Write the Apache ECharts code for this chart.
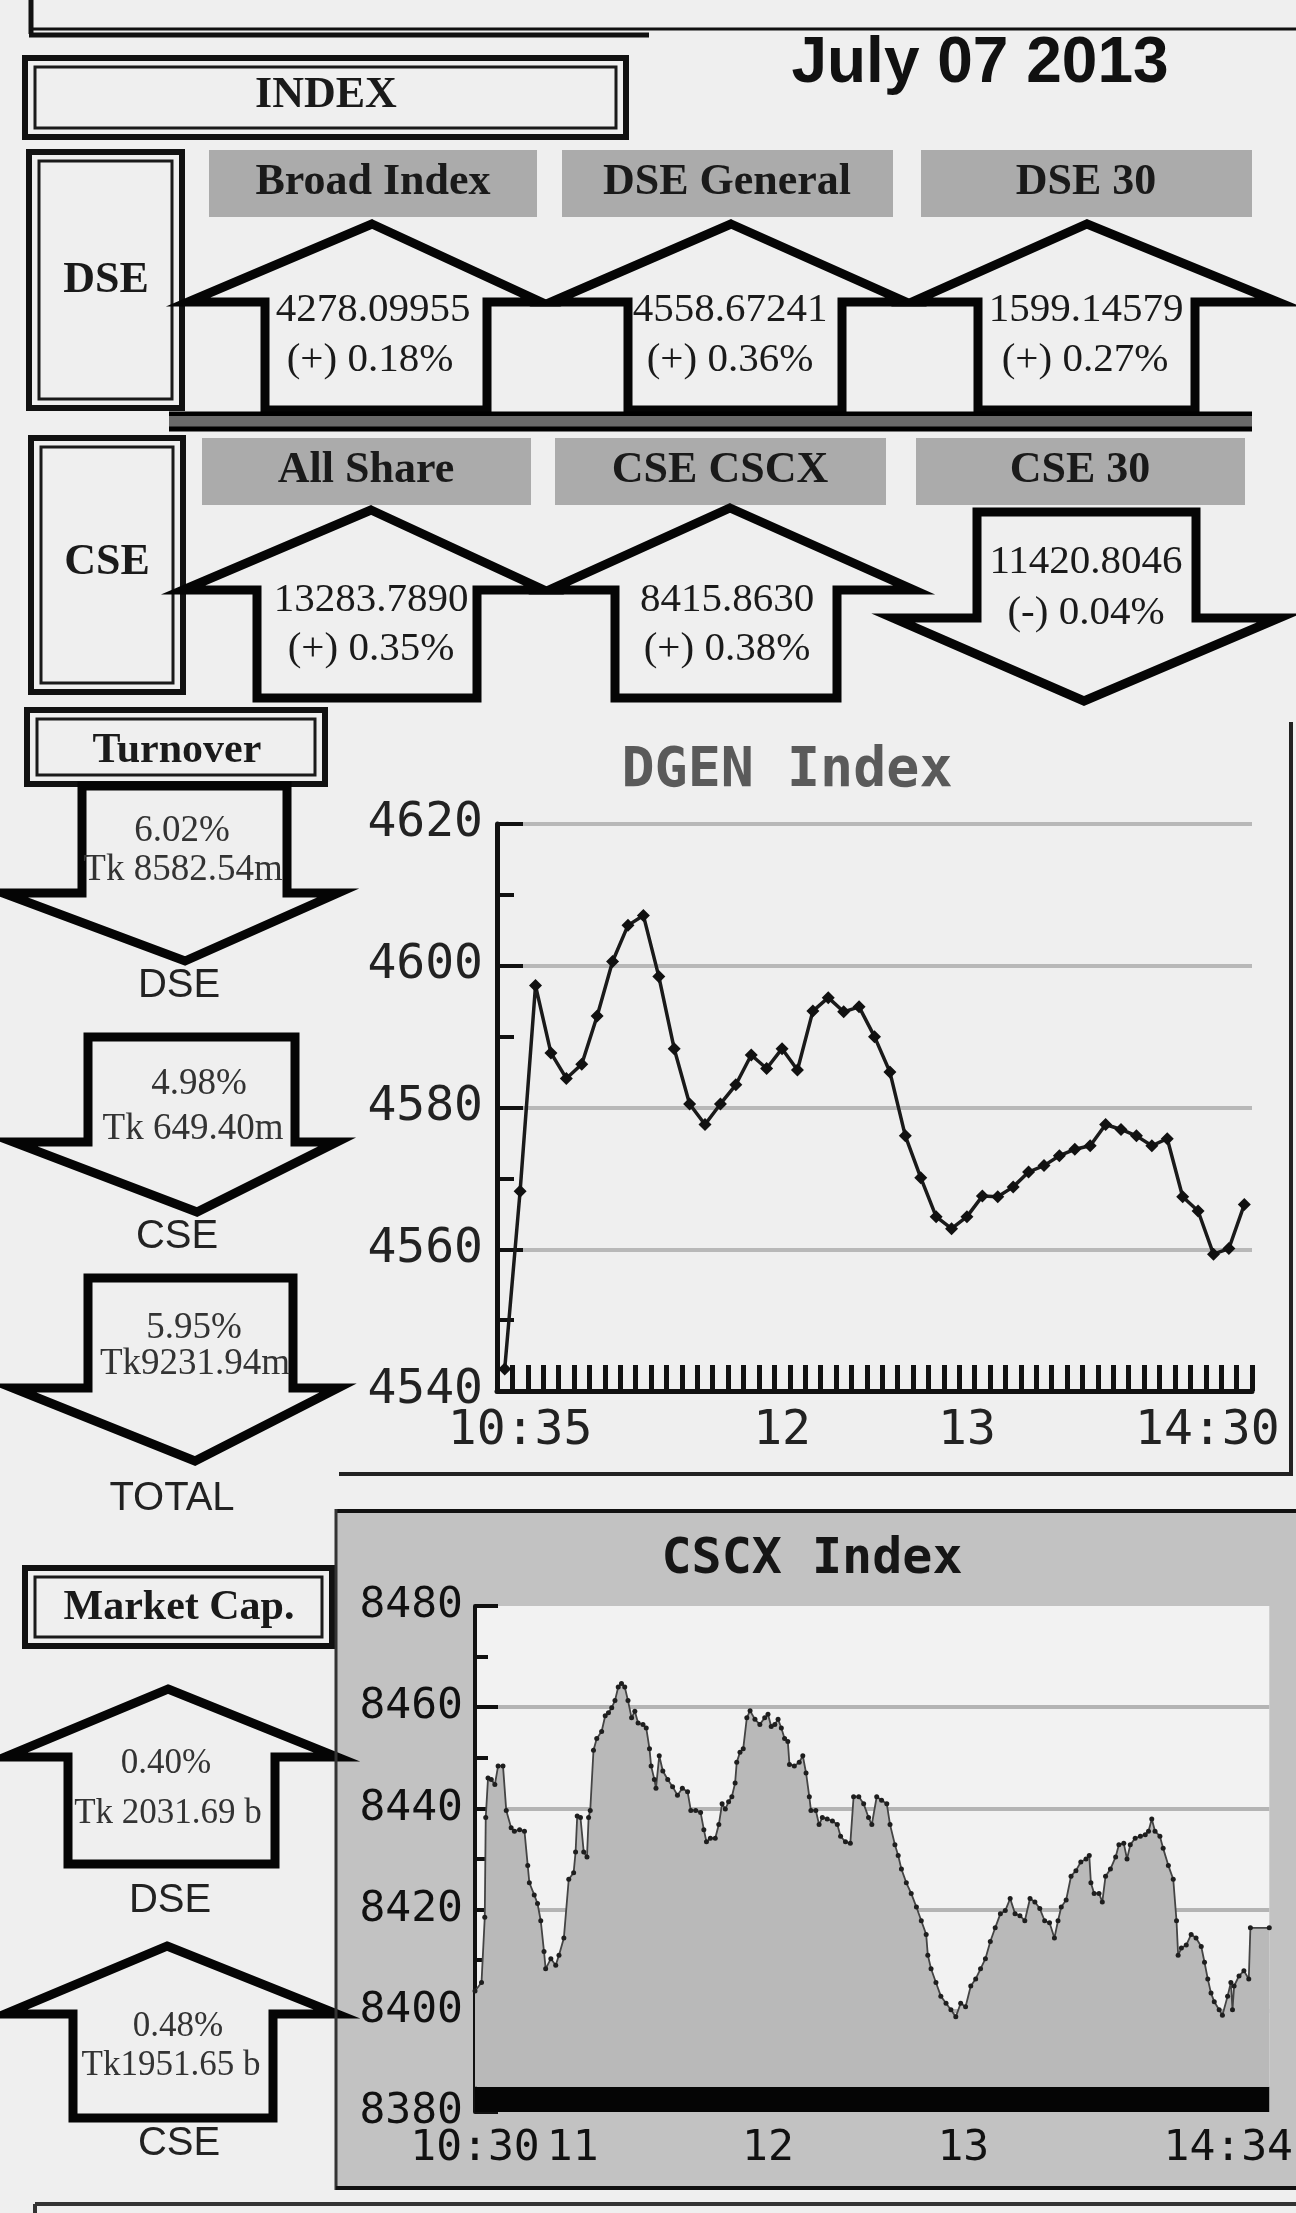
<!DOCTYPE html>
<html>
<head>
<meta charset="utf-8">
<script src="https://cdn.jsdelivr.net/npm/echarts@6/dist/echarts.min.js"></script>
<style>
  html, body { margin: 0; padding: 0; background: #efefef; }
  #chart { width: 1296px; height: 2213px; }
</style>
</head>
<body>
<div id="chart"></div>
<script>
// DGEN index, one point every 5 minutes
const dgenTimes = ['10:30','10:35','10:40','10:45','10:50','10:55',
  '11:00','11:05','11:10','11:15','11:20','11:25','11:30','11:35','11:40','11:45','11:50','11:55',
  '12:00','12:05','12:10','12:15','12:20','12:25','12:30','12:35','12:40','12:45','12:50','12:55',
  '13:00','13:05','13:10','13:15','13:20','13:25','13:30','13:35','13:40','13:45','13:50','13:55',
  '14:00','14:05','14:10','14:15','14:20','14:25','14:30'];
const dgenValues = [4543.1, 4568.2, 4597.2, 4587.7, 4584.1, 4586.1, 4592.9, 4600.6, 4605.7, 4607.1,
  4598.5, 4588.3, 4580.5, 4577.6, 4580.5, 4583.2, 4587.4, 4585.5, 4588.3, 4585.3,
  4593.6, 4595.5, 4593.5, 4594.2, 4590.0, 4585.0, 4576.0, 4570.1, 4564.6, 4562.9,
  4564.6, 4567.5, 4567.4, 4568.8, 4570.9, 4571.8, 4573.2, 4574.1, 4574.6, 4577.6,
  4576.9, 4576.0, 4574.6, 4575.6, 4567.4, 4565.4, 4559.3, 4560.1, 4566.3];
const dgenLabelIndex = [1, 18, 30, 48];
const dgenLabelText = ['10:35', '12', '13', '14:30'];

// CSCX index, minutes after 10:30
const cscxMinutes = [0, 2.0, 3.0, 3.3, 4.0, 5.0, 6.1, 7.1, 8.6, 9.6, 11.1, 12.1, 13.7, 15.2, 16.2, 16.7,
  18.2, 19.2, 20.2, 21.2, 21.7, 23.3, 24.8, 25.8, 27.3, 28.8, 30.3, 30.9, 31.4, 32.4, 33.4, 34.4,
  34.9, 35.4, 36.4, 37.4, 38.9, 40.0, 41.0, 42.0, 43.0, 44.0, 45.0, 46.0, 47.0, 48.1, 49.1, 50.1,
  51.6, 52.6, 53.6, 54.1, 55.1, 55.6, 56.6, 57.7, 59.2, 60.7, 62.2, 63.7, 65.3, 66.3, 67.8, 69.3,
  70.3, 71.1, 72.3, 73.8, 74.9, 75.9, 76.9, 77.9, 78.9, 79.9, 80.4, 81.4, 82.4, 83.5, 84.5, 86.0,
  87.5, 89.0, 90.0, 91.0, 92.1, 93.1, 94.1, 95.1, 96.1, 96.6, 98.1, 99.6, 100.7, 101.7, 102.7, 103.2,
  104.7, 105.7, 106.7, 108.2, 109.8, 111.3, 112.3, 113.8, 115.3, 116.3, 117.9, 119.4, 120.9, 121.9,
  123.4, 124.9, 126.5, 127.5, 129.0, 130.0, 131.0, 132.5, 134.0, 135.6, 137.1, 138.6, 139.1, 140.1,
  141.6, 143.1, 144.7, 146.2, 147.7, 149.2, 150.7, 152.3, 153.8, 155.3, 156.8, 158.3, 159.8, 161.4,
  162.9, 164.4, 165.9, 167.4, 168.9, 170.5, 172.0, 173.5, 175.0, 176.5, 178.0, 179.1, 180.1, 181.6,
  183.1, 184.6, 186.1, 187.7, 188.7, 189.2, 190.2, 191.7, 192.7, 193.7, 195.2, 196.8, 197.8, 199.3,
  200.3, 201.3, 202.8, 204.4, 205.9, 206.9, 207.9, 208.9, 210.4, 211.4, 213.0, 214.5, 215.5, 216.0,
  217.0, 218.5, 220.0, 221.5, 223.1, 224.1, 225.1, 226.1, 227.1, 228.6, 229.6, 231.2, 232.2, 232.7,
  233.2, 234.7, 236.2, 237.7, 238.2, 244];
const cscxValues = [8403.9, 8405.6, 8418.5, 8438.2, 8446.0, 8445.7, 8444.7, 8448.4, 8448.4, 8439.6, 8436.2, 8435.5, 8435.8, 8435.5, 8428.7, 8425.3,
  8422.9, 8421.2, 8417.8, 8411.7, 8408.3, 8410.3, 8409.0, 8411.0, 8414.4, 8426.0, 8427.3, 8431.4, 8438.5, 8438.2, 8431.4, 8430.4,
  8438.2, 8439.6, 8451.5, 8453.8, 8455.2, 8458.3, 8458.9, 8459.9, 8461.3, 8464.0, 8464.7, 8464.0, 8461.3, 8457.9, 8459.2, 8456.9,
  8456.6, 8455.9, 8451.8, 8448.4, 8445.7, 8444.0, 8450.4, 8447.4, 8445.7, 8444.3, 8442.6, 8444.0, 8443.3, 8439.6, 8439.6, 8439.2,
  8435.8, 8433.4, 8434.1, 8434.1, 8436.8, 8440.9, 8439.9, 8441.3, 8442.3, 8445.0, 8449.1, 8451.1, 8451.8, 8457.9, 8459.3, 8457.6,
  8456.6, 8457.9, 8458.6, 8456.2, 8456.6, 8457.6, 8455.9, 8453.8, 8453.2, 8448.7, 8448.4, 8449.1, 8450.4, 8447.0, 8442.3, 8439.6,
  8439.6, 8436.8, 8438.2, 8437.9, 8437.5, 8436.8, 8434.5, 8433.4, 8433.1, 8442.3, 8442.3, 8440.9, 8438.2, 8436.8,
  8442.3, 8441.6, 8440.9, 8436.8, 8432.8, 8430.7, 8428.0, 8425.3, 8423.2, 8420.5, 8417.8, 8415.1, 8411.0, 8408.3,
  8405.6, 8402.9, 8401.5, 8400.2, 8398.8, 8401.5, 8400.8, 8404.9, 8406.3, 8408.3, 8410.3, 8413.7, 8416.4, 8419.2,
  8419.8, 8422.2, 8419.2, 8418.8, 8417.8, 8422.2, 8421.5, 8420.2, 8417.8, 8417.4, 8414.4, 8417.8, 8420.5, 8421.9,
  8426.6, 8427.7, 8429.4, 8430.0, 8430.7, 8425.3, 8423.2, 8423.2, 8421.5, 8426.6, 8428.0, 8430.4, 8432.8, 8433.1,
  8430.0, 8432.8, 8434.1, 8434.5, 8434.8, 8435.5, 8437.9, 8435.5, 8434.5, 8432.1, 8428.7, 8426.0, 8417.8, 8411.0,
  8412.4, 8413.0, 8415.1, 8414.4, 8412.7, 8409.6, 8406.3, 8403.5, 8401.8, 8400.2, 8399.1, 8402.9, 8405.6, 8400.2,
  8404.9, 8406.9, 8407.9, 8406.3, 8416.4, 8416.4];
const cscxLabelMinutes = [0, 30, 90, 150, 244];
const cscxLabelText = ['10:30', '11', '12', '13', '14:34'];

const SERIF = '"Liberation Serif", "Times New Roman", serif';
const SANS = '"Liberation Sans", Arial, sans-serif';
const MONO = '"DejaVu Sans Mono", monospace';
const BG = '#efefef';

function txt(s, x, y, font, fill) {
  return {
    type: 'text',
    style: {
      text: s, x: x, y: y, font: font, fill: fill || '#1a1a1a',
      textAlign: 'center', textVerticalAlign: 'middle', align: 'center', verticalAlign: 'middle'
    }
  };
}
function line(x1, y1, x2, y2, w, c) {
  return { type: 'line', shape: { x1: x1, y1: y1, x2: x2, y2: y2 }, style: { stroke: c || '#111', lineWidth: w } };
}
function rect(x1, y1, x2, y2, fill, stroke, w) {
  return { type: 'rect', shape: { x: x1, y: y1, width: x2 - x1, height: y2 - y1 },
    style: { fill: fill, stroke: stroke || null, lineWidth: w || 0 } };
}
// double framed label box
function box(x1, y1, x2, y2) {
  return [
    rect(x1, y1, x2, y2, BG, '#111', 6),
    rect(x1 + 10, y1 + 9, x2 - 10, y2 - 9, 'none', '#1a1a1a', 3)
  ];
}
function poly(pts) {
  return { type: 'polygon', shape: { points: pts },
    style: { fill: BG, stroke: '#050505', lineWidth: 9, lineJoin: 'miter' } };
}
function upArrow(tipX, tipY, left, right, headY, sl, sr, bottom) {
  return poly([[tipX, tipY], [right, headY], [sr, headY], [sr, bottom], [sl, bottom], [sl, headY], [left, headY]]);
}
function downArrow(top, sl, sr, headY, left, right, tipX, tipY) {
  return poly([[sl, top], [sr, top], [sr, headY], [right, headY], [tipX, tipY], [left, headY], [sl, headY]]);
}

const numFont = '41px ' + SERIF;
const headFont = 'bold 44px ' + SERIF;
const smallFont = '37px ' + SERIF;
const capFont = '35px ' + SERIF;
const labFont = '40px ' + SANS;

const graphics = [].concat(
  // CSCX panel background
  [Object.assign(rect(336, 1511, 1296, 2188, '#c2c2c2'), { z: -10 })],
  // top frame
  [line(31, 0, 31, 34, 5), line(29, 29, 1296, 29, 3), line(29, 35, 649, 35, 5)],
  [txt('July 07 2013', 980, 64, 'bold 64px ' + SANS, '#111')],
  box(25, 58, 626, 137), [txt('INDEX', 326, 96, headFont)],
  box(29, 152, 182, 408), [txt('DSE', 106, 281, headFont)],
  box(31, 438, 183, 692), [txt('CSE', 107, 563, headFont)],
  // grey headers
  [rect(209, 150, 537, 217, '#ababab'), rect(562, 150, 893, 217, '#ababab'), rect(921, 150, 1252, 217, '#ababab'),
   rect(202, 438, 531, 505, '#ababab'), rect(555, 438, 886, 505, '#ababab'), rect(916, 438, 1245, 505, '#ababab')],
  [txt('Broad Index', 373, 183, headFont), txt('DSE General', 727, 183, headFont), txt('DSE 30', 1086, 183, headFont),
   txt('All Share', 366, 471, headFont), txt('CSE CSCX', 720, 471, headFont), txt('CSE 30', 1080, 471, headFont)],
  // DSE arrows
  [upArrow(372, 224, 188, 541, 302, 265, 487, 410),
   upArrow(731, 224, 551, 906, 302, 628, 842, 410),
   upArrow(1087, 224, 912, 1278, 302, 978, 1195, 410)],
  [line(169, 414, 1252, 414, 5, '#000'), rect(169, 416, 1252, 428, '#6a6a6a'), line(169, 429, 1252, 429, 5, '#000')],
  [txt('4278.09955', 373, 310, numFont), txt('(+) 0.18%', 370, 360, numFont),
   txt('4558.67241', 730, 310, numFont), txt('(+) 0.36%', 730, 360, numFont),
   txt('1599.14579', 1086, 310, numFont), txt('(+) 0.27%', 1085, 360, numFont)],
  // CSE arrows
  [upArrow(371, 510, 183, 544, 590, 257, 477, 698),
   upArrow(730, 508, 549, 914, 590, 615, 837, 698),
   downArrow(512, 977, 1196, 618, 893, 1279, 1084, 701)],
  [txt('13283.7890', 371, 600, numFont), txt('(+) 0.35%', 371, 649, numFont),
   txt('8415.8630', 727, 600, numFont), txt('(+) 0.38%', 727, 649, numFont),
   txt('11420.8046', 1086, 562, numFont), txt('(-) 0.04%', 1086, 613, numFont)],
  // turnover
  box(27, 710, 325, 784), [txt('Turnover', 177, 751, 'bold 42px ' + SERIF)],
  [downArrow(786, 82, 287, 893, 3, 338, 185, 961),
   downArrow(1037, 88, 295, 1142, 13, 337, 197, 1212),
   downArrow(1278, 88, 293, 1388, 13, 338, 195, 1461)],
  [txt('6.02%', 182, 831, smallFont, '#333'), txt('Tk 8582.54m', 183, 870, smallFont, '#333'),
   txt('4.98%', 199, 1084, smallFont, '#333'), txt('Tk 649.40m', 193, 1129, smallFont, '#333'),
   txt('5.95%', 194, 1328, smallFont, '#333'), txt('Tk9231.94m', 195, 1364, smallFont, '#333'),
   txt('DSE', 179, 986, labFont, '#222'), txt('CSE', 177, 1237, labFont, '#222'), txt('TOTAL', 172, 1499, labFont, '#222')],
  // market cap
  box(25, 1568, 332, 1646), [txt('Market Cap.', 179, 1608, 'bold 42px ' + SERIF)],
  [upArrow(168, 1689, 5, 337, 1757, 68, 275, 1864),
   upArrow(167, 1946, 5, 337, 2014, 73, 273, 2118)],
  [txt('0.40%', 166, 1764, capFont, '#333'), txt('Tk 2031.69 b', 168, 1814, capFont, '#333'),
   txt('0.48%', 178, 2027, capFont, '#333'), txt('Tk1951.65 b', 171, 2066, capFont, '#333'),
   txt('DSE', 170, 1901, labFont, '#222'), txt('CSE', 179, 2144, labFont, '#222')],
  // chart panel frames and titles
  [line(1291, 722, 1291, 1476, 4, '#222'), line(339, 1474, 1293, 1474, 4, '#222')],
  [line(336, 1511, 1296, 1511, 4, '#111'), line(336, 1509, 336, 2190, 3, '#333'), line(336, 2188, 1296, 2188, 4, '#111')],
  [line(35, 2204, 1296, 2204, 4, '#333'), line(35, 2204, 35, 2213, 4, '#333')],
  [txt('DGEN Index', 787, 772, 'bold 55px ' + MONO, '#5a5a5a'),
   txt('CSCX Index', 812, 1560, 'bold 50px ' + MONO, '#161616')]
);

function plain(v) { return String(v); }

const chart = echarts.init(document.getElementById('chart'));
chart.setOption({
  animation: false,
  backgroundColor: BG,
  grid: [
    { left: 497, top: 824, width: 755, height: 567 },
    { left: 475, top: 1606, width: 804, height: 506, show: true, backgroundColor: '#f2f2f2', borderWidth: 0 }
  ],
  xAxis: [
    {
      gridIndex: 0, type: 'category', data: dgenTimes, boundaryGap: true,
      axisLine: { show: true, lineStyle: { color: '#111', width: 5 } },
      axisTick: { show: true, inside: true, length: 26, interval: 0, lineStyle: { color: '#111', width: 5 } },
      axisLabel: {
        interval: function (idx) { return dgenLabelIndex.indexOf(idx) >= 0; },
        formatter: function (v, idx) {
          const t = dgenLabelText[dgenLabelIndex.indexOf(idx)];
          return idx === 48 ? '{s|' + t + '}' : t;
        },
        rich: { s: { fontFamily: MONO, fontSize: 48, color: '#222', padding: [0, 74, 0, 0] } },
        fontFamily: MONO, fontSize: 48, color: '#222', margin: 17
      },
      splitLine: { show: false }
    },
    {
      gridIndex: 1, type: 'value', min: 0, max: 244,
      axisLine: { show: false }, axisTick: { show: false }, splitLine: { show: false },
      axisLabel: {
        customValues: cscxLabelMinutes,
        formatter: function (v) {
          const t = cscxLabelText[cscxLabelMinutes.indexOf(v)];
          return v === 244 ? '{s|' + t + '}' : t;
        },
        rich: { s: { fontFamily: MONO, fontSize: 43, color: '#111', padding: [0, 82, 0, 0] } },
        fontFamily: MONO, fontSize: 43, color: '#111', margin: 15
      }
    }
  ],
  yAxis: [
    {
      gridIndex: 0, type: 'value', min: 4540, max: 4620, interval: 20,
      axisLine: { show: true, lineStyle: { color: '#111', width: 5 } },
      axisTick: { show: true, inside: true, length: 26, lineStyle: { color: '#111', width: 4 } },
      minorTick: { show: true, splitNumber: 2, length: 17, lineStyle: { color: '#111', width: 4 } },
      splitLine: { show: true, lineStyle: { color: ['transparent', '#b8b8b8', '#b8b8b8', '#b8b8b8', '#b8b8b8'], width: 4 } },
      axisLabel: { fontFamily: MONO, fontSize: 48, color: '#222', margin: 14, formatter: plain }
    },
    {
      gridIndex: 1, type: 'value', min: 8380, max: 8480, interval: 20,
      axisLine: { show: true, lineStyle: { color: '#111', width: 4 } },
      axisTick: { show: true, inside: true, length: 23, lineStyle: { color: '#111', width: 4 } },
      minorTick: { show: true, splitNumber: 2, length: 13, lineStyle: { color: '#111', width: 4 } },
      splitLine: { show: true, lineStyle: { color: ['transparent', '#b4b4b4', '#b4b4b4', '#b4b4b4', '#b4b4b4', 'transparent'], width: 4 } },
      axisLabel: { fontFamily: MONO, fontSize: 43, color: '#111', margin: 12, formatter: plain }
    }
  ],
  series: [
    {
      name: 'DGEN', type: 'line', xAxisIndex: 0, yAxisIndex: 0, data: dgenValues,
      symbol: 'diamond', symbolSize: 13, showSymbol: true, showAllSymbol: true,
      lineStyle: { color: '#1a1a1a', width: 3.5 }, itemStyle: { color: '#111' }
    },
    {
      name: 'CSCX', type: 'line', xAxisIndex: 1, yAxisIndex: 1,
      data: cscxMinutes.map(function (m, i) { return [m, cscxValues[i]]; }),
      symbol: 'circle', symbolSize: 5, showSymbol: true, showAllSymbol: true,
      lineStyle: { color: '#444', width: 1.8 }, itemStyle: { color: '#1e1e1e' },
      areaStyle: { color: '#b9b9b9', opacity: 1, origin: 8385 },
      markArea: { silent: true, itemStyle: { color: '#050505' }, data: [[{ yAxis: 8380 }, { yAxis: 8385 }]] }
    }
  ],
  graphic: { elements: graphics }
});
</script>
</body>
</html>
